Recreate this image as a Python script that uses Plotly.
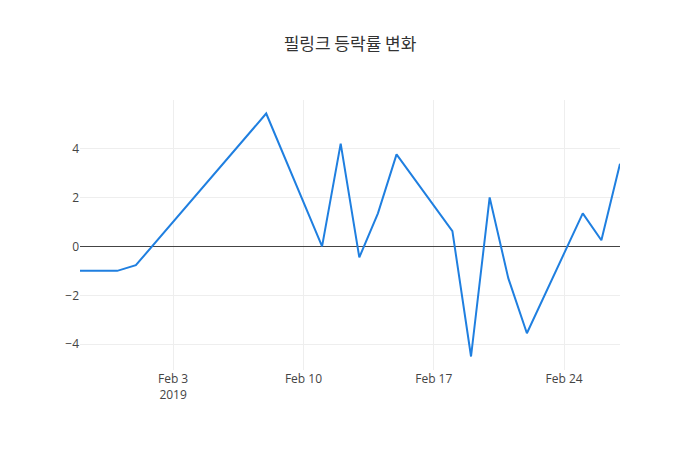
import plotly.graph_objects as go

dates = ["2019-01-29", "2019-01-30", "2019-01-31", "2019-02-01", "2019-02-08",
         "2019-02-11", "2019-02-12", "2019-02-13", "2019-02-14", "2019-02-15",
         "2019-02-18", "2019-02-19", "2019-02-20", "2019-02-21", "2019-02-22",
         "2019-02-25", "2019-02-26", "2019-02-27"]
change = [-1.0, -1.0, -1.0, -0.77, 5.43,
          0.0, 4.2, -0.45, 1.35, 3.76,
          0.62, -4.5, 2.0, -1.3, -3.55,
          1.35, 0.25, 3.38]

fig = go.Figure(go.Scatter(x=dates, y=change, mode="lines",
                           line=dict(color="#1f7fe0", width=2)))

# page puts the plot 8px in from the corner, so pull everything back by 8px
fig.update_layout(
    template="plotly_white",
    width=700, height=450,
    title=dict(text="필링크 등락률 변화", x=0.4886, xanchor="center",
               y=0.92, yref="container", yanchor="middle",
               font=dict(family="Noto Sans CJK KR", size=17, color="#333")),
    font=dict(family="Open Sans", color="#444", size=12),
    margin=dict(l=72, r=88, t=92, b=88),
    showlegend=False,
)
fig.update_xaxes(showgrid=True, gridcolor="#eee", tickformat="%b %-d\n%Y")
fig.update_yaxes(showgrid=True, gridcolor="#eee", zeroline=True,
                 zerolinecolor="#444", zerolinewidth=1, dtick=2)

fig.write_html("out.html")
